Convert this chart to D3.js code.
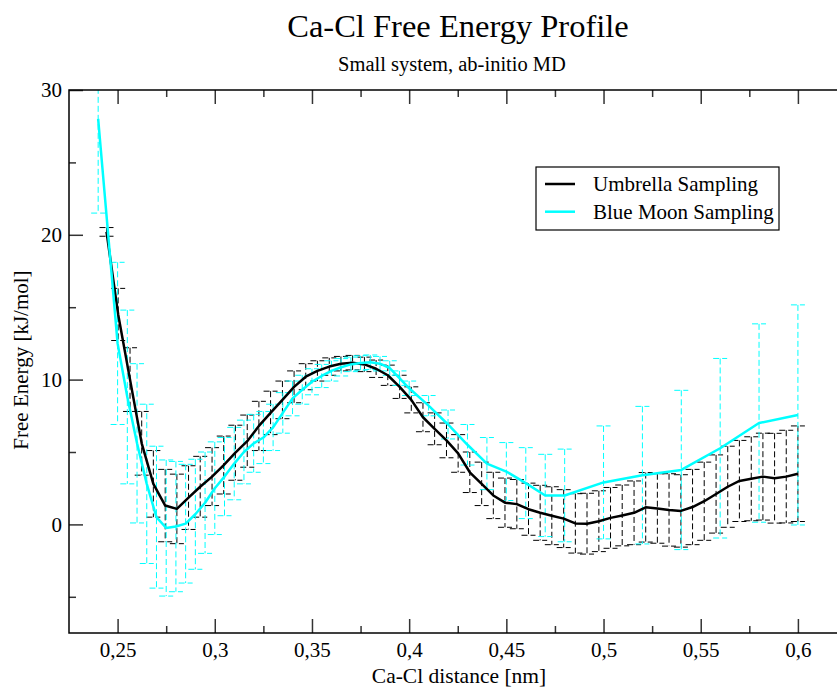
<!DOCTYPE html>
<html>
<head>
<meta charset="utf-8">
<script src="https://cdn.jsdelivr.net/npm/d3@7/dist/d3.min.js"></script>
<style>
  html, body { margin: 0; padding: 0; background: #fff; }
  svg { display: block; }
  text { font-family: "Liberation Serif", "Times New Roman", serif; fill: #000; }
</style>
</head>
<body>
<svg id="chart" width="837" height="688"></svg>
<script>
// ---------- DATA ----------
const umbrellaX = [0.2443,0.2503,0.2564,0.2624,0.2684,0.2745,0.2805,0.2865,0.2925,0.2986,
  0.3046,0.3106,0.3167,0.3227,0.3287,0.3348,0.3408,0.3468,0.3528,0.3589,
  0.3649,0.3709,0.3770,0.3830,0.3890,0.3951,0.4011,0.4071,0.4131,0.4192,
  0.4252,0.4312,0.4373,0.4433,0.4493,0.4554,0.4614,0.4674,0.4734,0.4795,
  0.4855,0.4915,0.4976,0.5036,0.5096,0.5157,0.5217,0.5277,0.5337,0.5398,
  0.5458,0.5518,0.5579,0.5639,0.5699,0.5760,0.5820,0.5880,0.5940,0.6000];
const umbrellaY = [20.2,14.5,10.0,5.6,2.8,1.3,1.07,1.85,2.6,3.3,
  4.1,4.95,5.75,6.8,7.7,8.6,9.5,10.2,10.6,10.9,
  11.1,11.17,11.05,10.75,10.3,9.5,8.6,7.4,6.6,5.8,
  4.9,3.6,2.8,2.0,1.5,1.4,1.05,0.8,0.6,0.4,
  0.07,0.05,0.22,0.45,0.62,0.8,1.18,1.1,1.0,0.93,
  1.2,1.6,2.1,2.6,3.0,3.15,3.3,3.19,3.3,3.5];
const umbrellaErr = [0.3,1.8,2.2,2.2,2.3,2.5,2.4,2.2,2.1,2.0,
  2.0,1.9,1.8,1.7,1.5,1.3,1.1,0.9,0.7,0.6,
  0.5,0.5,0.5,0.6,0.7,0.8,0.9,1.0,1.1,1.2,
  1.3,1.4,1.5,1.6,1.7,1.7,1.8,1.9,2.0,2.0,
  2.05,2.1,2.1,2.1,2.1,2.2,2.4,2.4,2.5,2.5,
  2.6,2.7,2.7,2.8,2.8,2.9,3.0,3.1,3.2,3.3];

const blueMoonX = [0.24,0.25,0.255,0.26,0.265,0.27,0.275,0.28,0.285,0.29,
  0.295,0.30,0.305,0.31,0.315,0.32,0.325,0.33,0.335,0.34,
  0.345,0.35,0.355,0.36,0.365,0.37,0.375,0.38,0.385,0.39,
  0.395,0.40,0.41,0.42,0.43,0.44,0.45,0.46,0.47,0.48,
  0.50,0.52,0.54,0.56,0.58,0.60];
const blueMoonY = [28.0,12.5,8.8,5.6,2.8,0.5,-0.25,-0.15,0.05,0.7,
  1.5,2.5,3.3,4.2,5.0,5.6,6.0,6.7,7.7,8.7,
  9.3,9.85,10.25,10.6,10.85,11.05,11.15,11.2,11.1,10.8,
  10.1,9.4,8.2,6.9,5.5,4.2,3.65,2.85,2.0,2.0,
  2.9,3.4,3.76,5.26,7.0,7.56];
const blueMoonErr = [6.5,5.6,6.0,5.5,5.5,4.9,4.7,4.5,4.1,3.8,
  3.5,3.2,2.7,2.5,2.2,2.0,1.8,1.6,1.4,1.2,
  1.0,0.9,0.8,0.7,0.6,0.5,0.5,0.5,0.5,0.5,
  0.5,0.5,0.7,1.0,1.4,1.8,2.0,2.45,2.84,3.2,
  3.9,4.75,5.5,6.2,6.85,7.6];

const xTicks = [0.25,0.30,0.35,0.40,0.45,0.50,0.55,0.60];
const xTickLabels = ["0,25","0,3","0,35","0,4","0,45","0,5","0,55","0,6"];
const xMinorTicks = [0.275,0.325,0.375,0.425,0.475,0.525,0.575];
const yTicks = [0,10,20,30];
const yTickLabels = ["0","10","20","30"];
const yMinorTicks = [-5,5,15,25];

const seriesNames = ["Umbrella Sampling","Blue Moon Sampling"];
const seriesColors = ["#000000","#00ffff"];

// ---------- LAYOUT ----------
const svg = d3.select("#chart");
const L = 69, R = 846.5, T = 90, B = 633;
const x = d3.scaleLinear().domain([0.225, 0.625]).range([L, R]);
const y = d3.scaleLinear().domain([-7.5, 30]).range([B, T]);
const FONT = "Liberation Serif, Times New Roman, serif";

svg.append("defs").append("clipPath").attr("id","plotclip")
  .append("rect").attr("x",L).attr("y",T).attr("width",R-L).attr("height",B-T);

// Title
svg.append("text").attr("x",458).attr("y",37).attr("text-anchor","middle")
  .style("font-size","32.5px").text("Ca-Cl Free Energy Profile");
svg.append("text").attr("x",452).attr("y",71).attr("text-anchor","middle")
  .style("font-size","20.5px").text("Small system, ab-initio MD");

const plot = svg.append("g").attr("clip-path","url(#plotclip)");

function drawSeries(xs, ys, es, color) {
  const pts = xs.map((d,i)=>({x:d, y:ys[i], e:es[i]}));
  const eb = plot.append("g").attr("stroke",color).attr("stroke-width",1)
    .attr("stroke-dasharray","6,3").attr("fill","none");
  pts.forEach(p=>{
    const cx = x(p.x), y1 = y(p.y + p.e), y2 = y(p.y - p.e);
    eb.append("line").attr("x1",cx).attr("x2",cx).attr("y1",y1).attr("y2",y2);
    eb.append("line").attr("x1",cx-7).attr("x2",cx+7).attr("y1",y1).attr("y2",y1);
    eb.append("line").attr("x1",cx-7).attr("x2",cx+7).attr("y1",y2).attr("y2",y2);
  });
  return pts;
}
const p1 = drawSeries(umbrellaX, umbrellaY, umbrellaErr, seriesColors[0]);
const p2 = drawSeries(blueMoonX, blueMoonY, blueMoonErr, seriesColors[1]);
const line = d3.line().x(d=>x(d.x)).y(d=>y(d.y));
plot.append("path").datum(p1).attr("d",line).attr("fill","none")
  .attr("stroke",seriesColors[0]).attr("stroke-width",2.5).attr("stroke-linejoin","round");
plot.append("path").datum(p2).attr("d",line).attr("fill","none")
  .attr("stroke",seriesColors[1]).attr("stroke-width",2.5).attr("stroke-linejoin","round");

// Axes (inward ticks)
function styleAxis(g){
  g.select(".domain").remove();
  g.selectAll("line").attr("stroke","#333").attr("stroke-width",1.5);
  g.selectAll("text").style("font-family",FONT).style("font-size","21px").attr("fill","#000");
}
svg.append("g").attr("transform",`translate(0,${B})`)
  .call(d3.axisBottom(x).tickValues(xTicks).tickSizeInner(-14).tickSizeOuter(0).tickPadding(9)
    .tickFormat((d,i)=>xTickLabels[i])).call(styleAxis);
svg.append("g").attr("transform",`translate(0,${B})`)
  .call(d3.axisBottom(x).tickValues(xMinorTicks).tickSizeInner(-7).tickSizeOuter(0).tickFormat(""))
  .call(styleAxis);
svg.append("g").attr("transform",`translate(0,${T})`)
  .call(d3.axisTop(x).tickValues(xTicks).tickSizeInner(-14).tickSizeOuter(0).tickFormat(""))
  .call(styleAxis);
svg.append("g").attr("transform",`translate(0,${T})`)
  .call(d3.axisTop(x).tickValues(xMinorTicks).tickSizeInner(-7).tickSizeOuter(0).tickFormat(""))
  .call(styleAxis);
svg.append("g").attr("transform",`translate(${L},0)`)
  .call(d3.axisLeft(y).tickValues(yTicks).tickSizeInner(-14).tickSizeOuter(0).tickPadding(7)
    .tickFormat((d,i)=>yTickLabels[i])).call(styleAxis);
svg.append("g").attr("transform",`translate(${L},0)`)
  .call(d3.axisLeft(y).tickValues(yMinorTicks).tickSizeInner(-7).tickSizeOuter(0).tickFormat(""))
  .call(styleAxis);

// Frame
svg.append("rect").attr("x",L).attr("y",T).attr("width",R-L).attr("height",B-T)
  .attr("fill","none").attr("stroke","#000").attr("stroke-width",1.5);

// Axis labels
svg.append("text").attr("x",459).attr("y",683).attr("text-anchor","middle")
  .style("font-size","21.5px").text("Ca-Cl distance [nm]");
svg.append("text").attr("transform","translate(28,360) rotate(-90)").attr("text-anchor","middle")
  .style("font-size","21px").text("Free Energy [kJ/mol]");

// Legend
const lg = svg.append("g");
lg.append("rect").attr("x",536).attr("y",167).attr("width",243).attr("height",63)
  .attr("fill","#fff").attr("stroke","#000").attr("stroke-width",1.2);
seriesNames.forEach((n,i)=>{
  const yy = 184 + i*27.7;
  lg.append("line").attr("x1",545).attr("x2",575).attr("y1",yy).attr("y2",yy)
    .attr("stroke",seriesColors[i]).attr("stroke-width",2.5);
  lg.append("text").attr("x",593).attr("y",yy+7).style("font-size","21px").text(n);
});
</script>
</body>
</html>
